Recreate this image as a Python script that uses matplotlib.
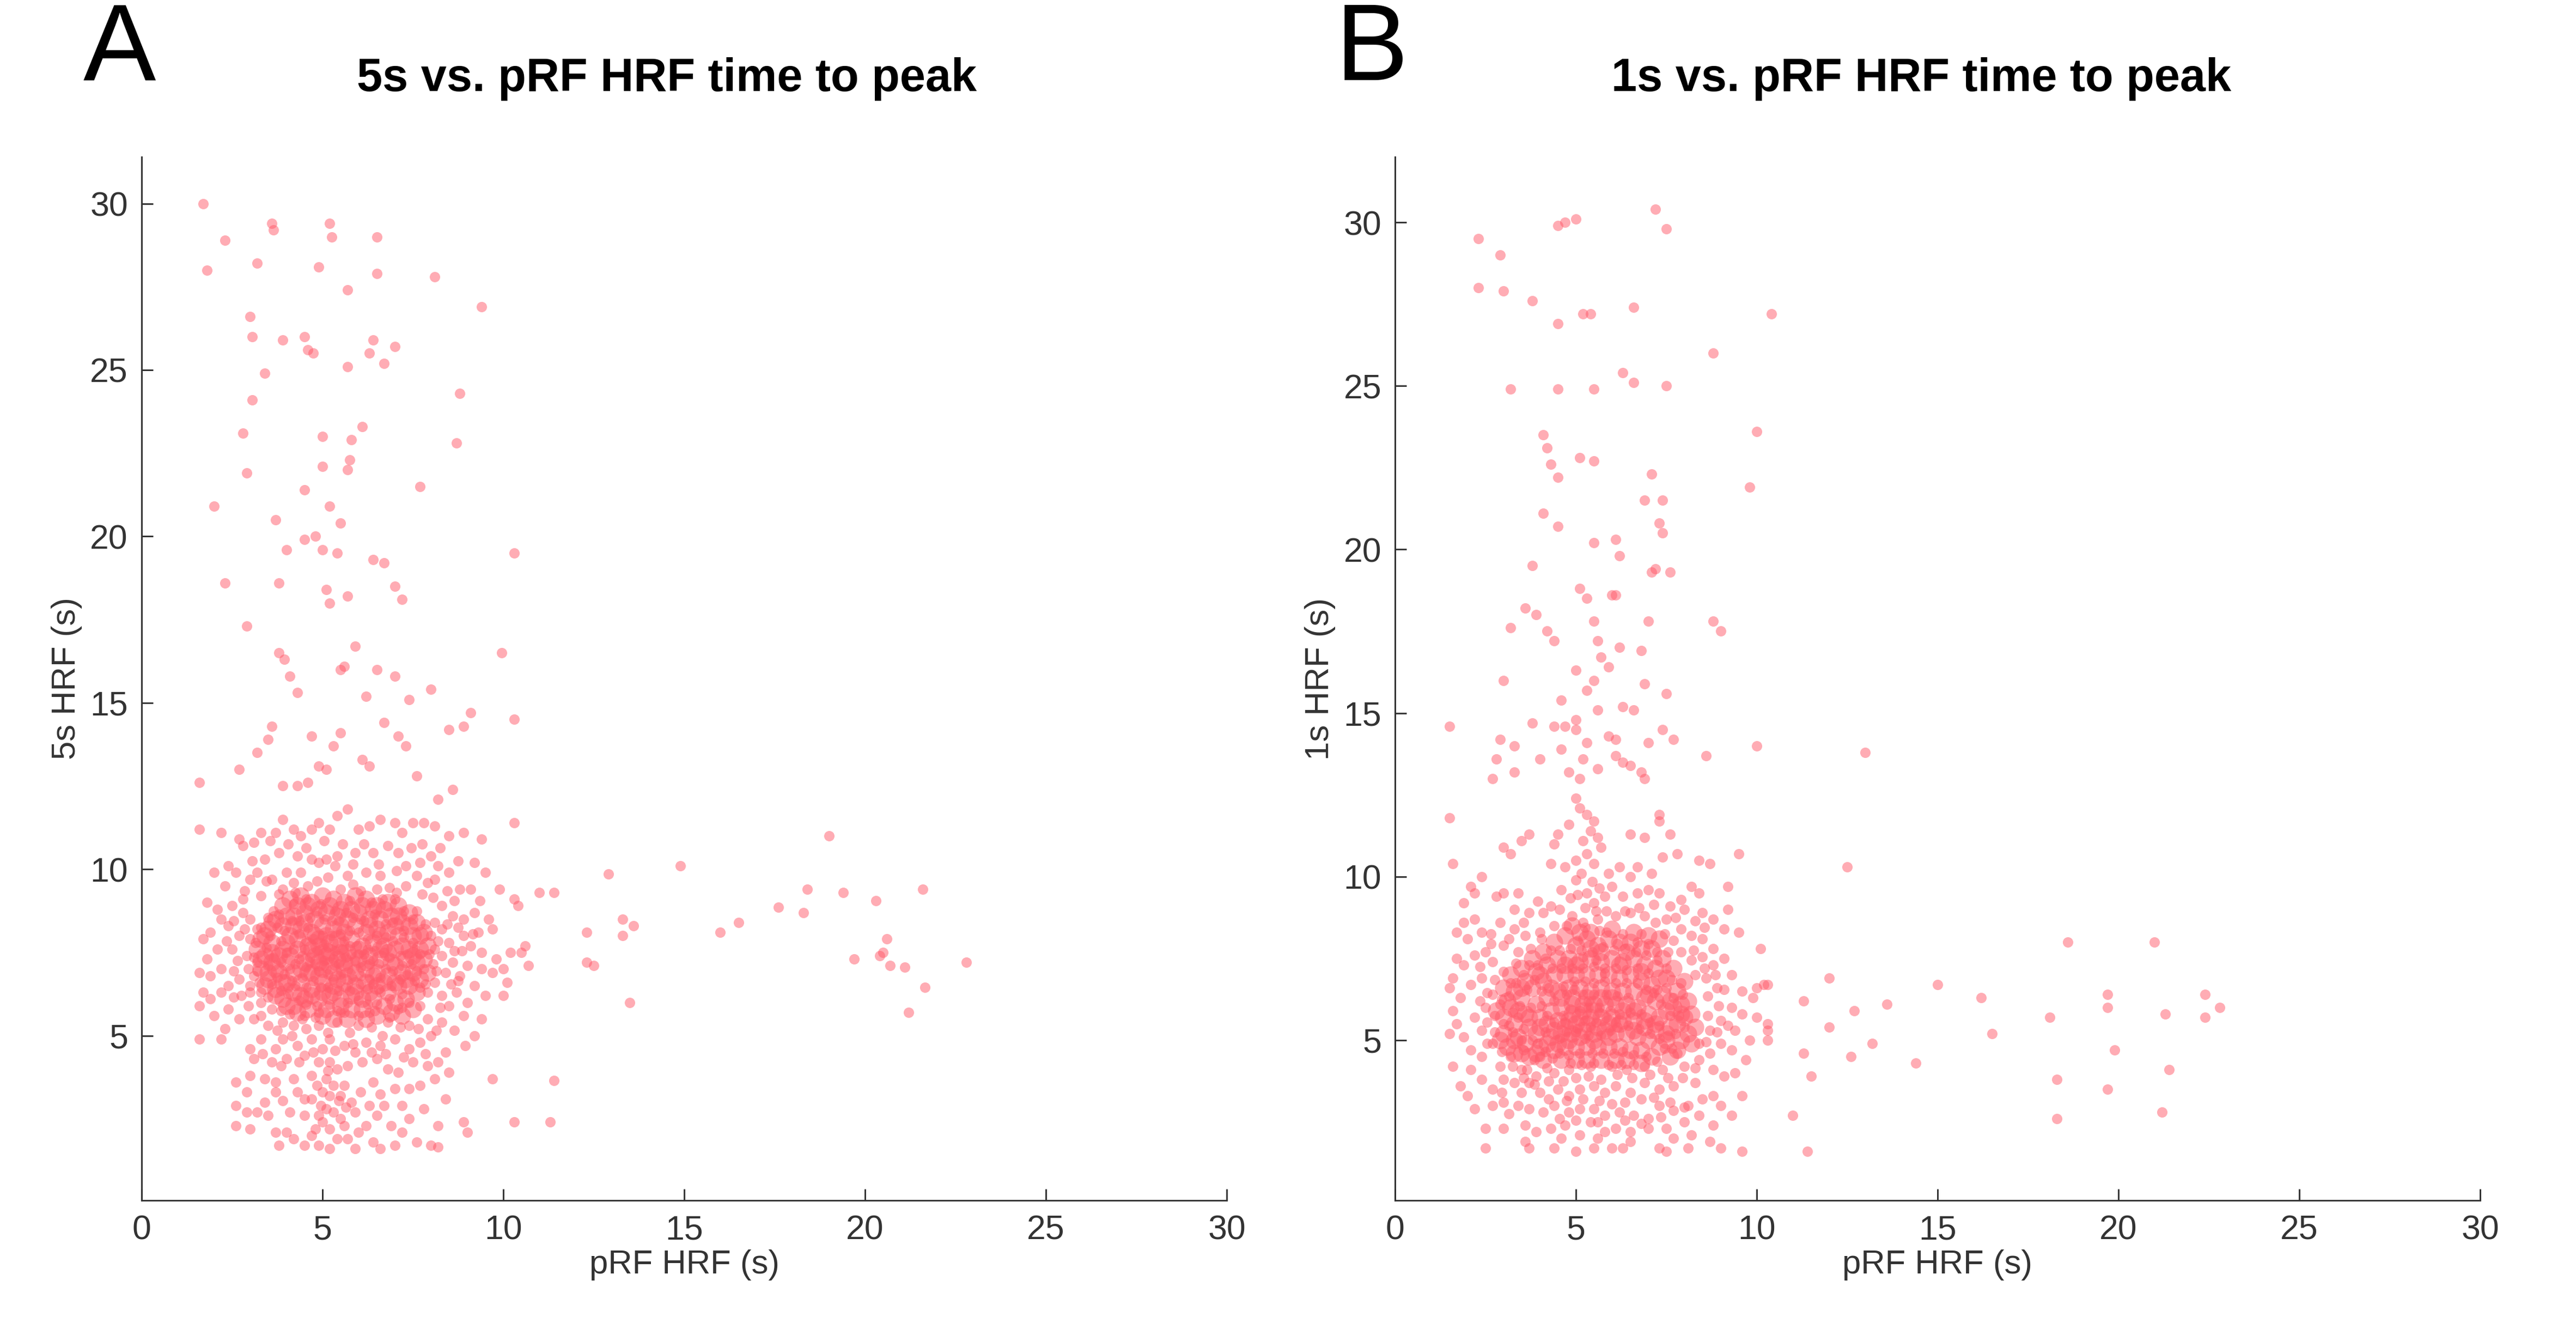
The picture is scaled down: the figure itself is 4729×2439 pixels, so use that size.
import matplotlib
matplotlib.use("Agg")
import matplotlib.pyplot as plt

plt.rcParams['font.family'] = ['Liberation Sans', 'DejaVu Sans']

ticks_x = [0, 5, 10, 15, 20, 25, 30]
ticks_y = [5, 10, 15, 20, 25, 30]

# panel A, values (pRF HRF, 5s HRF)
a_top = [(1.7,30.0),(1.8,28.0),(2.3,28.9),(3.2,28.2),(3.6,29.4),(3.65,29.2),(5.2,29.4),(5.25,29.0),(6.5,29.0),(4.9,28.1),
(6.5,27.9),(8.1,27.8),(5.7,27.4),(3.0,26.6),(3.05,26.0),(9.4,26.9),(4.5,26.0),(3.9,25.9),(4.6,25.6),(4.75,25.5),
(6.4,25.9),(7.0,25.7),(6.3,25.5),(6.7,25.2),(5.7,25.1),(3.4,24.9),(3.05,24.1),(8.8,24.3),(2.8,23.1),(5.0,23.0),
(6.1,23.3),(5.8,22.9),(8.7,22.8),(2.9,21.9),(5.0,22.1),(5.75,22.3),(5.7,22.0),(4.5,21.4),(7.7,21.5),(5.2,20.9),
(2.0,20.9),(3.7,20.5),(5.5,20.4),(4.5,19.9),(4.8,20.0),(4.0,19.6),(5.0,19.6),(5.4,19.5),(6.4,19.3),(6.7,19.2),
(10.3,19.5),(2.3,18.6),(3.8,18.6),(5.1,18.4),(5.2,18.0),(5.7,18.2),(7.0,18.5),(7.2,18.1),(2.9,17.3),(5.9,16.7),
(3.8,16.5),(3.95,16.3),(9.95,16.5),(4.1,15.8),(4.3,15.3),(5.6,16.1),(5.5,16.0),(6.5,16.0),(7.0,15.8),(8.0,15.4),
(6.2,15.2),(7.4,15.1),(9.1,14.7),(8.9,14.3),(10.3,14.5),(8.5,14.2),(3.6,14.3),(3.5,13.9),(4.7,14.0),(5.5,14.1),
(7.1,14.0),(7.3,13.7),(6.7,14.4),(5.3,13.7),(6.1,13.3),(3.2,13.5),(2.7,13.0),(1.6,12.6),(3.9,12.5),(4.9,13.1),
(5.1,13.0),(4.3,12.5),(4.6,12.6),(6.3,13.1),(7.6,12.8),(8.2,12.1),(8.6,12.4),(10.3,11.4),(9.4,10.9)]

a_right = [(11.4,3.65),(10.3,2.4),(11.3,2.4),(11.0,9.3),(11.4,9.3),(10.4,8.9),(10.6,7.7),(10.5,7.5),(10.2,7.5),(10.7,7.1),
(10.1,6.6),(12.3,8.1),(12.3,7.2),(12.5,7.1),(12.9,9.85),(13.3,8.0),(13.3,8.5),(13.6,8.3),(13.5,6.0),(14.9,10.1),
(16.0,8.1),(16.5,8.4),(17.6,8.85),(18.4,9.4),(18.3,8.7),(19.0,11.0),(19.4,9.3),(19.7,7.3),(20.3,9.05),(20.4,7.4),
(20.6,7.9),(20.5,7.5),(20.7,7.1),(21.1,7.05),(21.2,5.7),(21.6,9.4),(21.65,6.45),(22.8,7.2)]

a_halo = [(1.6,11.2),(2.2,11.1),(2.7,10.9),(2.8,10.7),(2.4,10.1),(3.3,11.1),(3.1,10.8),(3.7,11.1),(3.9,11.5),(4.2,11.2),
(4.4,11.0),(4.7,11.2),(4.9,11.4),(5.2,11.2),(5.4,11.6),(5.7,11.8),(6.0,11.2),(6.3,11.3),(6.6,11.5),(7.0,11.4),
(7.2,11.1),(7.5,11.4),(7.8,11.4),(8.1,11.3),(8.5,11.0),(8.9,11.1),(3.4,10.3),(3.8,10.5),(4.3,10.4),(4.7,10.3),
(4.9,10.2),(5.1,10.3),(5.4,10.4),(5.9,10.5),(6.4,10.5),(6.8,10.7),(7.1,10.5),(7.3,10.1),(7.7,10.2),(8.0,10.4),
(8.2,10.1),(8.5,9.9),(9.2,10.2),(9.5,9.9),(2.0,9.9),(2.3,9.5),(2.6,9.9),(3.0,9.7),(3.2,9.9),(3.6,9.7),
(4.0,9.9),(4.2,9.6),(4.4,9.9),(5.7,9.8),(6.2,9.9),(6.6,9.8),(7.6,9.8),(7.9,9.6),(8.1,9.7),(8.8,9.4),
(9.1,9.4),(9.9,9.4),(10.3,9.1),(1.8,9.0),(2.1,8.8),(2.5,8.9),(2.8,9.1),(3.3,9.2),(2.2,8.5),(2.4,8.3),
(1.9,8.1),(1.7,7.9),(2.1,7.6),(1.8,7.3),(1.6,6.9),(1.9,6.8),(2.2,7.0),(2.5,7.6),(2.7,8.0),(2.9,7.4),
(8.3,8.9),(8.6,8.6),(8.9,8.5),(9.3,8.1),(9.7,8.2),(9.1,7.7),(9.4,7.5),(9.8,7.3),(9.0,7.1),(9.4,7.0),
(9.7,6.9),(10.0,7.0),(8.8,6.8),(9.2,6.5),(8.7,6.3),(9.5,6.2),(9.0,6.0),(8.5,5.9),(8.9,5.6),(9.4,5.5),
(10.0,6.2),(8.3,5.4),(9.2,5.0),(1.7,6.3),(1.9,6.1),(2.2,6.3),(1.6,5.9),(2.0,5.6),(2.4,5.8),(2.7,5.5),
(2.3,5.2),(1.6,4.9),(2.2,4.9),(3.0,6.3),(3.3,6.0),(3.6,5.8),(3.1,5.5),(3.5,5.3),(3.9,5.4),(4.2,5.3),
(3.3,4.9),(3.0,4.6),(3.1,4.3),(3.7,4.6),(3.9,4.9),(4.3,4.7),(4.7,4.9),(5.0,4.6),(5.2,4.9),(5.6,4.7),
(5.9,4.5),(6.2,4.8),(6.6,4.7),(7.0,4.9),(7.4,4.6),(7.7,4.8),(8.0,5.0),(8.4,4.5),(5.4,5.4),(4.9,5.3),
(6.0,5.3),(6.8,5.4),(7.4,5.3),(7.9,5.5),(4.5,5.6),(4.9,5.7),(5.5,5.7),(6.3,5.7),(7.1,5.8),(7.7,5.9),
(3.6,4.2),(4.0,4.3),(4.5,4.4),(4.9,4.2),(5.2,4.2),(5.4,4.0),(5.7,4.1),(6.1,4.2),(6.5,4.3),(6.8,4.0),
(7.1,3.9),(7.5,4.2),(7.9,4.1),(8.2,4.2),(8.5,3.9),(8.1,3.7),(3.0,3.8),(3.4,3.7),(3.7,3.6),(4.2,3.7),
(4.7,3.8),(5.1,3.7),(5.3,3.5),(5.6,3.5),(6.4,3.6),(7.0,3.4),(7.4,3.4),(7.7,3.5),(2.6,3.6),(2.9,3.3),
(3.4,3.0),(3.7,3.3),(4.3,3.3),(4.7,3.1),(5.0,3.3),(5.2,3.2),(5.5,3.2),(5.8,3.0),(6.3,2.9),(6.7,2.9),
(7.2,2.9),(7.8,2.8),(8.4,3.1),(9.7,3.7),(2.6,2.9),(2.9,2.7),(3.2,2.7),(3.5,2.6),(4.1,2.7),(4.5,2.6),
(4.9,2.6),(5.1,2.8),(5.5,2.5),(5.9,2.7),(6.5,2.6),(6.9,2.3),(7.4,2.5),(8.2,2.3),(8.9,2.4),(9.0,2.1),
(2.6,2.3),(3.0,2.2),(3.7,2.1),(4.0,2.1),(4.7,2.0),(5.2,2.2),(5.6,2.3),(6.0,2.1),(6.4,1.8),(7.2,2.1),
(7.6,1.8),(8.0,1.7),(3.8,1.7),(4.2,1.9),(4.5,1.7),(4.9,1.7),(5.2,1.6),(5.9,1.6),(6.6,1.6),(7.0,1.7),
(8.2,1.65),(5.0,2.4),(4.8,2.2),(5.4,1.9),(5.7,1.9),(6.2,2.3),(3.0,8.5),(3.2,8.2),(3.0,7.9),(3.2,7.2),
(3.1,6.8),(3.0,6.5),(8.3,8.2),(8.5,7.8),(8.3,7.4),(8.6,7.2),(8.4,6.9),(8.1,6.6),(8.3,6.2),(7.9,6.3),
(2.7,6.7),(2.4,6.5),(2.8,8.7),(8.9,8.0),(9.2,8.7),(9.6,8.5),(3.9,9.4),(4.6,9.5),(5.5,9.4),(6.5,9.4),(7.3,9.5)]

a_halo2 = [(3.55,10.85),(4.05,10.75),(4.55,10.65),(5.05,10.85),(5.35,10.1),(5.55,10.75),(5.85,10.15),(6.15,10.75),(6.55,10.15),(7.05,9.95),
(7.45,10.65),(7.75,10.75),(8.25,10.65),(8.75,10.25),(3.05,10.25),(2.85,9.35),(3.45,9.65),(3.8,9.25),(4.25,9.3),(4.85,9.65),
(5.15,9.75),(5.85,9.55),(6.05,9.35),(6.85,9.45),(7.05,9.3),(7.75,9.25),(8.05,9.15),(8.45,9.35),(8.65,9.05),(9.35,9.05),
(2.55,8.45),(2.85,8.2),(2.65,7.25),(2.35,7.85),(2.95,7.0),(2.55,6.95),(2.75,6.2),(2.55,6.15),(2.95,5.9),(3.3,5.6),
(3.75,5.15),(4.15,5.0),(4.55,5.2),(5.15,5.1),(5.75,5.1),(6.35,5.25),(6.65,5.0),(7.15,5.25),(7.65,5.2),(8.15,5.15),
(8.65,5.15),(8.95,4.7),(8.75,6.65),(8.55,6.55),(8.25,5.85),(8.65,7.55),(8.85,7.55),(9.15,8.05),(8.75,8.25),(8.45,8.35),
(3.35,4.45),(3.85,4.1),(4.35,4.2),(4.75,4.5),(5.35,4.55),(5.85,4.75),(6.35,4.5),(6.75,4.45),(7.25,4.35),(7.85,4.45),
(4.85,3.5),(5.15,3.95),(5.45,3.05),(5.65,2.85),(6.05,3.3),(4.95,2.9),(5.3,2.7),(4.5,3.1),(3.9,3.05),(6.6,3.25)]

a_core = [(3.3,7.9),(3.5,8.2),(3.7,8.5),(3.9,8.9),(4.1,9.1),(4.4,9.2),(4.7,9.0),(5.0,9.2),(5.3,9.1),(5.6,9.0),
(5.9,9.2),(6.2,9.1),(6.5,8.9),(6.8,9.0),(7.1,8.9),(7.4,8.7),(7.6,8.4),(7.8,8.1),(3.4,7.4),(3.6,7.8),
(3.9,8.3),(4.2,8.6),(4.5,8.7),(4.8,8.5),(5.1,8.7),(5.4,8.6),(5.7,8.5),(6.0,8.7),(6.3,8.5),(6.6,8.5),
(6.9,8.6),(7.2,8.4),(7.5,8.0),(7.7,7.6),(3.3,7.0),(3.6,7.2),(3.9,7.6),(4.1,8.0),(4.4,8.2),(4.7,8.1),
(5.0,8.3),(5.3,8.2),(5.6,8.1),(5.9,8.3),(6.2,8.1),(6.5,8.2),(6.8,8.1),(7.1,8.0),(7.4,7.6),(7.6,7.2),
(3.5,6.7),(3.8,6.9),(4.0,7.2),(4.3,7.6),(4.6,7.7),(4.9,7.9),(5.2,7.8),(5.5,7.7),(5.8,7.9),(6.1,7.7),
(6.4,7.8),(6.7,7.7),(7.0,7.6),(7.3,7.3),(7.5,6.9),(3.7,6.4),(4.0,6.6),(4.2,6.9),(4.5,7.2),(4.8,7.4),
(5.1,7.4),(5.4,7.3),(5.7,7.5),(6.0,7.3),(6.3,7.4),(6.6,7.3),(6.9,7.2),(7.2,6.9),(7.4,6.5),(7.7,6.7),
(3.9,6.1),(4.2,6.3),(4.4,6.6),(4.7,6.9),(5.0,7.0),(5.3,6.9),(5.6,7.0),(5.9,6.9),(6.2,7.0),(6.5,6.9),
(6.8,6.8),(7.1,6.5),(7.3,6.1),(4.2,5.9),(4.5,6.1),(4.7,6.4),(5.0,6.6),(5.3,6.5),(5.6,6.6),(5.9,6.5),
(6.2,6.6),(6.5,6.5),(6.8,6.3),(7.0,6.0),(4.6,5.8),(4.9,6.1),(5.2,6.2),(5.5,6.1),(5.8,6.2),(6.1,6.1),
(6.4,6.1),(6.7,5.9),(5.1,5.8),(5.5,5.9),(5.8,5.8),(6.1,5.8),(4.9,7.7),(5.2,7.5),(5.4,7.9),(5.6,7.2),
(4.9,7.2),(5.2,7.1),(5.0,7.5),(4.7,7.6),(5.5,7.5),(5.8,7.1),(4.8,8.0),(5.1,8.0),(5.5,8.3),(4.6,6.9),
(4.9,6.8),(5.4,6.7),(5.7,6.8),(6.0,7.6),(6.2,7.2),(6.4,6.8),(6.6,7.6),(6.8,7.5),(7.0,7.1),(7.2,7.7),
(7.0,8.3),(6.6,8.0),(6.3,8.3),(4.5,8.4),(4.2,8.3),(4.3,7.9),(4.0,7.8),(3.8,7.4),(3.6,7.5),(3.7,7.0),
(3.9,6.6),(4.1,7.4),(4.4,7.0),(4.4,6.2),(4.7,6.2),(5.0,6.3),(5.3,6.3),(5.9,6.3),(6.3,6.3),(6.7,6.6),
(7.0,6.6),(7.3,6.7),(7.5,7.4),(7.8,7.3),(7.9,7.7),(7.7,8.0),(7.4,8.3),(7.1,8.6),(6.7,8.8),(6.4,8.8),
(6.1,8.9),(5.8,8.8),(5.5,8.8),(5.2,8.9),(4.9,8.8),(4.6,8.9),(4.3,8.9),(4.0,8.6),(3.6,8.4),(3.4,8.0),
(3.2,7.6),(3.3,7.3),(3.5,6.9),(3.4,6.5),(3.7,6.2),(4.0,5.9),(4.3,5.7),(5.0,5.6),(5.3,5.5),(5.7,5.5),
(6.2,5.5),(6.5,5.6),(6.9,5.7),(7.2,5.6),(7.5,5.8),(7.6,6.3),(7.9,6.9)]

a_core2 = [(3.45,7.65),(3.55,8.0),(3.75,8.25),(3.85,7.85),(3.65,7.35),(3.5,7.1),(3.75,6.75),(3.6,6.55),(3.85,6.35),(4.05,6.25),
(4.15,6.65),(4.1,7.0),(4.25,7.15),(4.2,7.6),(4.45,7.4),(4.55,7.85),(4.35,8.05),(4.6,8.25),(4.15,8.45),(3.95,8.15),
(4.35,8.45),(4.65,8.55),(4.85,8.75),(5.05,8.5),(5.25,8.45),(5.45,8.45),(5.65,8.7),(5.85,8.55),(6.15,8.45),(6.45,8.65),
(6.75,8.35),(6.95,8.4),(7.25,8.15),(7.25,7.95),(7.5,7.8),(7.35,7.45),(7.15,7.4),(7.2,7.1),(7.45,7.15),(7.35,6.85),
(7.15,6.7),(7.55,6.65),(7.6,6.95),(7.8,7.0),(7.7,7.45),(7.55,7.6),(6.95,7.85),(6.75,7.95),(6.85,7.35),(6.45,7.55),
(6.55,7.15),(6.3,7.15),(6.15,7.45),(6.05,7.05),(5.9,7.25),(5.95,7.7),(5.75,7.7),(5.65,7.35),(5.45,7.15),(5.35,7.55),
(5.15,7.65),(5.05,7.25),(4.8,7.15),(4.65,7.35),(4.55,7.05),(4.75,6.65),(4.95,6.45),(5.15,6.85),(5.3,6.7),(5.5,6.85),
(5.65,6.45),(5.85,6.7),(6.05,6.8),(6.25,6.4),(6.4,6.55),(6.6,6.75),(6.75,7.0),(6.95,6.95),(6.9,6.5),(6.6,6.3),
(6.5,5.95),(6.25,5.95),(6.0,6.05),(5.7,6.0),(5.4,5.75),(5.2,5.95),(4.85,5.9),(4.55,5.95),(4.35,6.05),(4.55,6.45),
(4.25,6.5),(4.05,6.45),(3.95,6.85),(3.85,7.2),(4.0,7.5),(4.35,7.3),(4.5,7.6),(4.75,7.9),(5.0,8.0),(5.25,8.0),
(5.5,8.05),(5.75,8.15),(6.0,8.1),(6.25,7.9),(6.5,8.0),(6.05,8.5),(5.35,8.75),(4.95,8.95),(5.75,9.05),(6.35,9.0),
(4.55,9.1),(6.65,9.1),(7.0,9.1),(7.25,8.75),(7.5,8.5),(4.2,8.95),(3.8,8.65),(5.05,7.75),(5.3,7.3),(5.55,7.6),
(4.85,7.55),(5.05,7.1),(5.35,7.1),(5.6,7.85),(5.8,7.45),(6.0,7.45),(6.25,7.6),(6.4,7.25),(6.7,7.5),(4.65,7.2),
(4.45,6.75),(4.9,6.95),(5.15,6.45),(5.45,6.35),(5.75,6.35),(6.05,6.55),(6.3,6.7),(6.55,6.4),(6.85,6.1),(7.2,6.25),
(7.4,6.0),(7.2,5.85),(6.85,5.55),(6.45,5.75),(6.0,5.6),(5.6,5.7),(4.8,5.55),(4.45,5.5),(4.1,5.65),(3.85,5.75),
(3.5,6.15),(3.3,6.3),(3.25,6.6),(3.2,6.95),(3.1,7.35),(3.15,7.8),(3.3,8.25),(3.5,8.55),(3.65,8.75),(7.7,6.45),
(7.85,6.55),(8.05,7.15),(8.1,7.6),(8.0,8.0),(7.85,8.35),(7.6,8.75),(8.15,6.95),(7.95,7.45),(8.2,7.85),(8.1,8.4)]

# panel B (pRF HRF, 1s HRF)
b_top = [(7.2,30.4),(7.5,29.8),(4.5,29.9),(4.7,30.0),(5.0,30.1),(2.3,29.5),(2.9,29.0),(2.3,28.0),(3.0,27.9),(3.8,27.6),
(4.5,26.9),(5.2,27.2),(5.4,27.2),(6.6,27.4),(8.8,26.0),(3.2,24.9),(4.5,24.9),(5.5,24.9),(6.3,25.4),(6.6,25.1),
(7.5,25.0),(4.1,23.5),(4.2,23.1),(4.3,22.6),(5.1,22.8),(5.5,22.7),(7.1,22.3),(4.5,22.2),(6.9,21.5),(7.4,21.5),
(4.1,21.1),(4.5,20.7),(7.3,20.8),(7.4,20.5),(5.5,20.2),(6.1,20.3),(6.2,19.8),(3.8,19.5),(5.1,18.8),(5.3,18.5),
(7.1,19.3),(7.2,19.4),(7.6,19.3),(6.0,18.6),(6.1,18.6),(3.6,18.2),(3.9,18.0),(3.2,17.6),(4.2,17.5),(4.4,17.2),
(5.5,17.8),(5.6,17.2),(7.0,17.8),(8.8,17.8),(9.0,17.5),(5.7,16.7),(5.9,16.4),(5.5,16.0),(6.2,17.0),(6.8,16.9),
(6.9,15.9),(7.5,15.6),(3.0,16.0),(5.0,16.3),(4.6,15.4),(4.7,14.6),(5.0,14.8),(5.0,14.5),(5.6,15.1),(5.3,15.7),
(6.3,15.2),(6.6,15.1),(6.1,14.2),(5.3,14.1),(5.9,14.3),(3.8,14.7),(4.4,14.6),(2.9,14.2),(3.3,14.0),(7.0,14.1),
(7.4,14.5),(7.7,14.2),(2.8,13.6),(2.7,13.0),(3.3,13.2),(4.0,13.6),(4.6,13.9),(5.2,13.6),(5.6,13.3),(6.1,13.7),
(6.3,13.5),(6.5,13.4),(6.8,13.2),(6.9,13.0),(8.6,13.7),(4.8,13.2),(5.1,13.0)]

b_right = [(1.5,14.6),(1.5,11.8),(1.6,10.4),(10.4,27.2),(10.0,23.6),(9.8,21.9),(10.0,14.0),(13.0,13.8),(12.5,10.3),(9.5,10.7),
(11.3,6.2),(11.5,3.9),(11.3,4.6),(11.4,1.6),(11.0,2.7),(10.3,5.5),(10.3,5.0),(12.0,6.9),(12.0,5.4),(12.6,4.5),
(12.7,5.9),(13.2,4.9),(13.6,6.1),(14.4,4.3),(15.0,6.7),(16.2,6.3),(16.5,5.2),(18.1,5.7),(18.3,3.8),(18.3,2.6),
(18.6,8.0),(19.7,6.4),(19.7,6.0),(19.7,3.5),(19.9,4.7),(21.0,8.0),(21.2,2.8),(21.3,5.8),(21.4,4.1),(22.4,6.4),
(22.4,5.7),(22.8,6.0),(10.2,6.7),(10.0,6.6),(10.3,5.3)]

b_halo = [(5.0,12.4),(5.1,12.1),(5.3,11.9),(5.5,11.7),(5.4,11.4),(5.2,11.1),(5.6,11.2),(4.8,11.6),(4.4,11.0),(4.5,11.3),
(3.5,11.1),(3.7,11.3),(3.2,10.7),(3.0,10.9),(4.3,10.4),(4.7,10.3),(5.0,10.5),(5.3,10.7),(5.5,10.4),(5.7,10.9),
(5.9,10.1),(6.2,10.3),(6.5,10.0),(6.7,10.3),(7.1,10.1),(7.3,11.7),(7.3,11.9),(6.5,11.3),(6.9,11.2),(7.6,11.3),
(7.4,10.6),(7.8,10.7),(8.4,10.5),(8.7,10.4),(8.4,9.5),(8.2,9.7),(9.2,9.7),(9.2,9.0),(2.1,9.7),(2.4,10.0),
(1.9,9.2),(2.2,9.5),(3.0,9.5),(3.4,9.5),(2.8,9.4),(3.3,9.0),(3.7,8.9),(4.1,8.9),(4.3,9.1),(4.6,9.6),
(5.0,9.9),(5.3,9.5),(5.5,9.2),(5.8,9.4),(6.0,9.7),(6.3,9.4),(6.7,9.5),(7.0,9.6),(7.3,9.5),(7.6,9.1),
(7.9,9.3),(8.0,9.0),(8.5,8.9),(8.8,8.7),(9.1,8.4),(9.5,8.3),(10.1,7.8),(10.3,6.7),(1.9,8.6),(2.2,8.7),
(1.7,8.3),(2.0,8.1),(2.4,8.3),(2.9,8.6),(3.3,8.4),(3.6,8.2),(4.0,8.3),(4.4,8.5),(4.9,8.8),(5.2,8.6),
(5.6,8.7),(6.1,8.8),(6.5,8.9),(6.9,8.8),(7.2,8.6),(7.5,8.7),(7.9,8.4),(8.2,8.2),(8.5,8.1),(8.8,7.8),
(9.1,7.5),(8.8,7.3),(9.3,7.0),(9.6,6.5),(9.9,6.3),(1.7,7.5),(1.9,7.3),(2.2,7.6),(2.5,7.7),(1.6,6.9),
(1.5,6.6),(1.8,6.3),(2.1,6.7),(2.4,6.9),(2.7,7.4),(3.0,7.9),(3.4,7.7),(3.0,7.1),(1.6,5.9),(1.7,5.5),
(1.5,5.2),(1.9,5.1),(2.2,5.7),(2.5,6.0),(2.7,6.4),(2.4,5.3),(2.1,4.7),(1.6,4.2),(1.8,3.6),(2.1,4.1),
(2.4,4.5),(2.7,4.9),(3.0,5.5),(2.9,6.1),(8.6,6.9),(8.9,6.6),(9.3,6.0),(9.6,5.8),(10.0,5.7),(9.8,5.0),
(9.4,5.3),(9.0,5.6),(8.7,5.3),(9.3,4.7),(9.7,4.4),(9.0,4.9),(8.7,4.6),(8.4,4.9),(9.4,4.0),(9.1,3.9),
(8.8,4.1),(8.4,4.4),(8.0,4.2),(8.3,3.7),(8.8,3.3),(9.0,3.0),(8.5,3.2),(8.1,3.0),(7.7,3.6),(7.3,3.5),
(6.9,3.7),(6.5,3.4),(6.1,3.6),(5.8,3.4),(5.5,3.6),(5.1,3.5),(4.8,3.3),(4.5,3.5),(4.0,3.4),(3.7,3.7),
(3.3,3.7),(3.0,3.8),(2.7,3.5),(2.4,3.8),(2.9,4.2),(3.2,4.5),(3.5,4.1),(3.9,3.9),(2.0,3.3),(2.2,2.9),
(2.7,3.0),(3.0,3.1),(3.4,3.0),(3.7,2.9),(4.1,2.8),(4.4,3.0),(4.8,2.8),(5.1,2.9),(5.5,2.9),(5.8,2.7),
(6.2,2.8),(6.6,2.7),(7.0,2.6),(7.3,3.0),(7.6,3.1),(8.0,2.5),(8.4,2.7),(8.8,2.4),(9.3,2.7),(9.6,3.3),
(2.5,2.3),(3.0,2.3),(3.6,2.4),(3.9,2.2),(4.3,2.3),(4.7,2.4),(5.1,2.1),(5.4,2.5),(5.8,2.2),(6.1,2.3),
(6.5,2.2),(7.0,2.3),(7.5,2.3),(7.7,2.0),(8.2,2.1),(8.7,1.9),(9.0,1.7),(2.5,1.7),(3.6,1.9),(3.7,1.7),
(4.4,1.7),(4.6,2.0),(5.0,1.6),(5.5,1.7),(5.6,2.0),(6.0,1.7),(6.3,1.7),(6.5,1.9),(7.3,1.7),(8.1,1.7),
(7.5,1.6),(9.6,1.6),(4.0,4.5),(4.4,4.0),(4.8,4.1),(5.4,4.2),(6.0,4.2),(6.4,4.1),(6.9,4.2),(7.4,4.1),(7.8,4.6)]

b_halo2 = [(5.05,9.45),(5.25,9.05),(5.45,9.85),(5.15,10.1),(4.85,9.35),(5.65,9.65),(5.55,8.95),(5.85,8.95),(6.35,8.95),(6.75,9.05),
(7.15,9.15),(4.55,9.0),(3.95,9.25),(3.55,8.6),(3.15,8.1),(2.65,8.25),(2.65,7.95),(2.35,7.25),(2.75,6.85),(2.55,6.45),
(2.35,6.2),(2.75,5.75),(2.55,5.55),(2.75,5.25),(2.55,4.9),(2.95,4.65),(3.25,4.2),(3.55,3.85),(3.85,3.65),(4.25,3.75),
(4.65,3.75),(5.0,3.85),(5.35,3.9),(5.7,3.8),(6.15,3.95),(6.55,3.85),(7.05,3.95),(7.55,3.85),(7.95,3.85),(8.3,4.15),
(8.6,4.95),(8.9,5.25),(9.2,5.45),(8.65,5.75),(8.95,6.05),(8.65,6.35),(9.1,6.55),(8.85,7.0),(8.5,7.55),(8.55,7.2),
(8.3,7.0),(8.2,7.45),(7.9,7.7),(8.25,7.75),(7.7,8.05),(7.45,8.25),(7.75,8.75),(8.3,8.65),(8.55,8.45),(2.95,3.4),
(3.5,3.4),(4.25,3.2),(4.75,3.15),(5.2,3.2),(5.65,3.15),(6.0,3.05),(6.35,3.1),(6.8,3.2),(7.15,3.25),(7.7,2.85),
(3.15,2.75),(4.55,2.6),(5.0,2.55),(5.6,2.5),(6.35,2.55),(6.8,2.45),(7.35,2.65),(8.0,2.95),(3.65,4.1),(4.2,4.15)]

b_core = [(3.0,6.6),(3.2,7.0),(3.5,7.2),(3.8,7.5),(4.1,7.7),(4.4,8.0),(4.7,8.2),(5.0,7.9),(5.3,8.1),(5.6,7.9),
(5.9,8.1),(6.2,8.0),(6.5,8.0),(6.8,7.8),(7.1,7.8),(7.4,7.5),(7.7,7.2),(8.0,6.8),(3.1,6.2),(3.3,6.5),
(3.6,6.8),(3.9,7.1),(4.2,7.3),(4.5,7.5),(4.8,7.5),(5.1,7.4),(5.4,7.5),(5.7,7.4),(6.0,7.5),(6.3,7.4),
(6.6,7.5),(6.9,7.3),(7.2,7.2),(7.5,6.9),(7.8,6.5),(8.1,6.2),(3.0,5.7),(3.2,6.0),(3.5,6.3),(3.8,6.6),
(4.1,6.8),(4.4,7.0),(4.7,7.0),(5.0,7.0),(5.3,7.0),(5.6,7.0),(5.9,7.0),(6.2,6.9),(6.5,7.0),(6.8,6.8),
(7.1,6.7),(7.4,6.4),(7.7,6.0),(8.0,5.7),(3.0,5.2),(3.3,5.5),(3.6,5.8),(3.9,6.1),(4.2,6.3),(4.5,6.5),
(4.8,6.6),(5.1,6.6),(5.4,6.5),(5.7,6.6),(6.0,6.5),(6.3,6.5),(6.6,6.5),(6.9,6.3),(7.2,6.2),(7.5,5.9),
(7.8,5.5),(8.1,5.2),(3.1,4.8),(3.4,5.1),(3.7,5.4),(4.0,5.7),(4.3,5.9),(4.6,6.0),(4.9,6.1),(5.2,6.1),
(5.5,6.1),(5.8,6.1),(6.1,6.1),(6.4,6.1),(6.7,6.0),(7.0,5.8),(7.3,5.7),(7.6,5.4),(7.9,5.0),(3.3,4.6),
(3.6,4.9),(3.9,5.2),(4.2,5.5),(4.5,5.6),(4.8,5.6),(5.1,5.7),(5.4,5.7),(5.7,5.7),(6.0,5.7),(6.3,5.6),
(6.6,5.6),(6.9,5.4),(7.2,5.3),(7.5,5.0),(7.8,4.7),(3.7,4.5),(4.0,4.8),(4.3,5.1),(4.6,5.2),(4.9,5.2),
(5.2,5.3),(5.5,5.2),(5.8,5.3),(6.1,5.2),(6.4,5.2),(6.7,5.1),(7.0,5.0),(7.3,4.8),(7.6,4.5),(4.1,4.4),
(4.4,4.7),(4.7,4.8),(5.0,4.8),(5.3,4.8),(5.6,4.8),(5.9,4.8),(6.2,4.8),(6.5,4.7),(6.8,4.7),(7.1,4.5),
(4.6,4.4),(5.0,4.4),(5.3,4.4),(5.7,4.4),(6.1,4.4),(6.4,4.4),(6.8,4.3),(4.9,6.3),(5.2,5.9),(5.0,5.5),
(5.3,5.5),(4.7,5.4),(5.6,5.4),(5.9,5.5),(5.5,5.9),(4.9,5.8),(5.7,6.3),(5.3,6.3),(4.6,6.3),(6.0,6.3),
(4.4,5.3),(4.2,4.9),(4.0,5.4),(3.7,5.7),(3.4,5.9),(3.3,5.0),(2.9,5.0),(2.8,5.9),(3.5,6.6),(4.3,6.6),
(4.0,7.0),(4.7,7.3),(5.0,7.3),(5.4,7.8),(5.7,7.7),(6.2,7.3),(6.4,7.7),(6.8,7.1),(7.0,6.4),(7.3,6.9),
(7.6,6.2),(7.9,6.1),(8.2,5.8),(8.3,5.4),(8.2,4.9),(7.9,5.8),(6.6,5.9),(6.3,5.9),(6.9,5.6),(7.2,5.5),
(7.5,5.2),(6.6,5.3),(6.2,5.5),(5.9,5.1),(5.5,5.0),(5.1,5.1),(4.8,5.0),(4.5,4.9),(3.9,4.6),(3.5,4.6),
(4.9,8.5),(5.1,8.3),(5.4,8.3),(6.0,8.4),(6.6,8.3),(7.0,8.2),(7.3,8.1)]

b_core2 = [(3.15,6.35),(3.35,6.75),(3.55,7.0),(3.7,7.3),(3.95,7.3),(4.15,7.5),(4.3,7.75),(4.55,7.75),(4.85,7.8),(5.15,7.75),
(5.45,7.7),(5.75,7.85),(6.05,7.75),(6.35,7.8),(6.65,7.7),(6.95,7.6),(7.25,7.45),(7.5,7.2),(7.65,6.85),(7.9,6.75),
(3.25,5.85),(3.45,6.05),(3.65,6.55),(3.85,6.85),(4.05,6.5),(4.25,6.6),(4.35,7.2),(4.6,7.2),(4.9,7.2),(5.2,7.2),
(5.5,7.25),(5.8,7.2),(6.1,7.2),(6.4,7.15),(6.7,7.2),(7.0,7.05),(7.25,6.55),(7.5,6.6),(7.7,6.3),(7.95,6.4),
(3.15,5.45),(3.4,5.7),(3.55,5.35),(3.75,6.0),(4.05,6.05),(4.2,5.75),(4.4,6.2),(4.65,6.65),(4.95,6.8),(5.25,6.8),
(5.5,6.75),(5.8,6.8),(6.1,6.75),(6.4,6.75),(6.7,6.75),(6.95,6.55),(7.15,6.45),(7.35,6.1),(7.6,5.75),(7.85,5.75),
(3.25,5.25),(3.5,5.0),(3.8,5.0),(3.95,4.9),(4.15,5.25),(4.4,5.55),(4.65,5.75),(4.85,5.95),(5.1,5.9),(5.35,6.0),
(5.65,6.0),(5.95,5.9),(6.2,5.8),(6.5,5.85),(6.8,5.8),(7.05,5.55),(7.3,5.45),(7.55,5.15),(7.75,5.2),(8.0,5.4),
(3.55,4.7),(3.85,4.4),(4.15,4.65),(4.35,4.45),(4.55,5.05),(4.75,5.25),(5.05,5.35),(5.25,5.05),(5.4,5.4),(5.7,5.15),
(5.95,5.3),(6.15,5.4),(6.45,5.45),(6.75,5.35),(7.05,5.2),(7.3,5.05),(7.45,4.75),(7.65,4.75),(4.55,4.6),(4.8,4.55),
(5.1,4.6),(5.45,4.6),(5.75,4.6),(6.05,4.6),(6.3,4.65),(6.6,4.55),(6.95,4.5),(7.25,4.35),(4.85,4.3),(5.15,4.25),
(5.5,4.3),(5.9,4.25),(6.25,4.25),(6.6,4.25),(5.2,6.4),(5.5,6.4),(5.85,6.4),(6.15,6.35),(6.45,6.3),(4.75,6.4),
(4.95,6.55),(5.35,6.2),(5.65,5.85),(5.25,5.6),(5.55,5.55),(5.85,5.7),(6.1,5.55),(5.0,5.25),(5.35,5.15),(4.7,5.55),
(5.8,7.05),(5.2,7.55),(5.55,7.45),(5.05,8.05),(4.75,8.5),(5.25,8.45),(5.65,8.35),(5.85,8.3),(6.3,8.25),(6.8,8.25),
(6.15,7.95),(6.7,8.0),(7.0,7.95),(7.25,7.7),(7.55,7.7),(3.75,7.8),(4.05,8.1),(3.35,7.35),(3.2,6.75),(2.95,6.25)]


def panel(ax, puntos, nucleo, titulo, ylab, letra, x_titulo, x_letra):
	xs = [p[0] for p in puntos]
	ys = [p[1] for p in puntos]
	ax.scatter(xs, ys, s=21, color="#ff5a6a", alpha=0.5, linewidths=0)
	# the dense middle cannot be read dot by dot, so these marks are bigger to close it up
	xs = [p[0] for p in nucleo]
	ys = [p[1] for p in nucleo]
	ax.scatter(xs, ys, s=60, color="#ff5a6a", alpha=0.5, linewidths=0)
	ax.set_xticks(ticks_x)
	ax.set_yticks(ticks_y)
	ax.tick_params(direction="in", length=5, width=0.7, color="#333333", labelcolor="#333333", labelsize=15, pad=6)
	ax.spines["top"].set_visible(False)
	ax.spines["right"].set_visible(False)
	ax.spines["left"].set_linewidth(0.7)
	ax.spines["bottom"].set_linewidth(0.7)
	ax.spines["left"].set_color("#333333")
	ax.spines["bottom"].set_color("#333333")
	ax.set_xlabel("pRF HRF (s)", fontsize=14.8, color="#333333", labelpad=1.5)
	ax.set_ylabel(ylab, fontsize=14.8, color="#333333", labelpad=3.5)
	fig.text(x_titulo/4729, 1-167/2439, titulo, fontsize=20.3, fontweight="bold", ha="center", va="baseline")
	fig.text(x_letra/4729, 1-147/2439, letra, fontsize=48, ha="left", va="baseline")


fig = plt.figure(figsize=(4729/300, 2439/300), dpi=300)

ax_a = fig.add_axes([260/4729, 236/2439, 1992/4729, 1915/2439])
ax_a.set_xlim(0, 30)
ax_a.set_ylim(0.05, 31.4)
panel(ax_a, a_top+a_right+a_halo+a_halo2+a_core2, a_core, "5s vs. pRF HRF time to peak", "5s HRF (s)", "A", 1224, 153)

ax_b = fig.add_axes([2561/4729, 236/2439, 1992/4729, 1915/2439])
ax_b.set_xlim(0, 30)
ax_b.set_ylim(0.1, 32.0)
panel(ax_b, b_top+b_right+b_halo+b_halo2+b_core2, b_core, "1s vs. pRF HRF time to peak", "1s HRF (s)", "B", 3527, 2452)

fig.savefig("out.png", dpi=300)
